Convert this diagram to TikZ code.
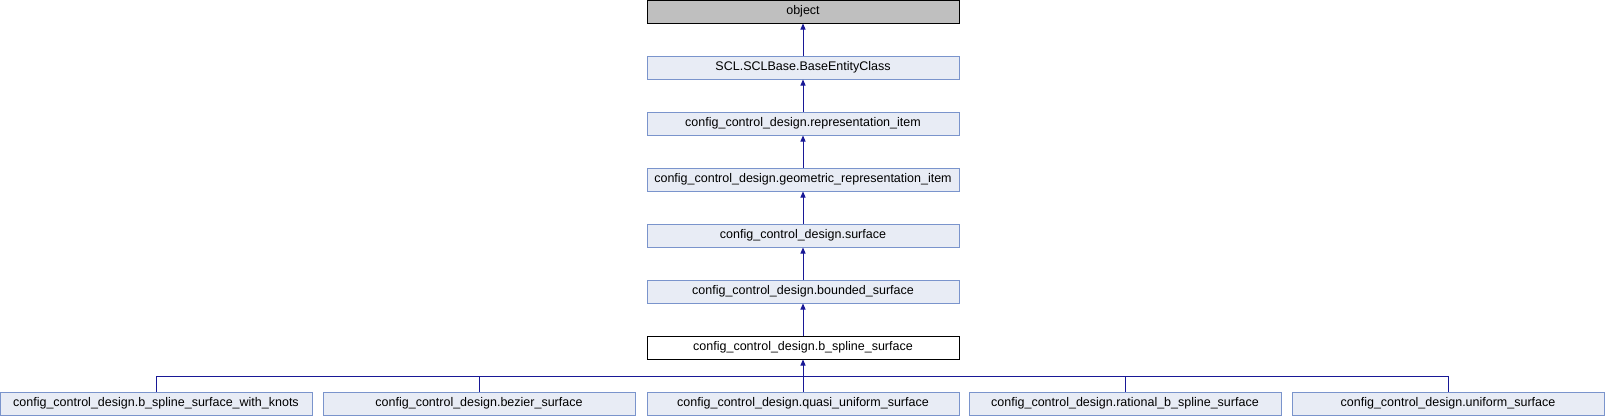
\documentclass[tikz,border=0pt]{standalone}
\usepackage{fontspec}
\setmainfont{Liberation Sans}
\usetikzlibrary{arrows.meta}
\definecolor{edgeblue}{RGB}{24,24,150}
\definecolor{boxfill}{RGB}{232,236,245}
\definecolor{boxline}{RGB}{122,148,204}
\definecolor{objfill}{RGB}{191,191,191}
\tikzset{
  cls/.style={draw=boxline, fill=boxfill, line width=1pt, minimum width=312pt, minimum height=23pt, inner sep=0pt, font=\fontsize{12.5}{14}\selectfont, text=black},
  clsobj/.style={cls, draw=black, fill=objfill},
  clscur/.style={cls, draw=black, fill=white},
  inh/.style={draw=edgeblue, line width=1pt, -{Triangle[length=6pt,width=5pt]}},
  bar/.style={draw=edgeblue, line width=1pt}
}
\begin{document}
\begin{tikzpicture}[x=1pt,y=-1pt]
\useasboundingbox (0,0) rectangle (1605,416);
\node[clsobj] (obj) at (803,11.5) {object};
\node[cls] (scl) at (803,67.5) {SCL.SCLBase.BaseEntityClass};
\node[cls] (rep) at (803,123.5) {config\_control\_design.representation\_item};
\node[cls] (geo) at (803,179.5) {config\_control\_design.geometric\_representation\_item};
\node[cls] (surf) at (803,235.5) {config\_control\_design.surface};
\node[cls] (bnd) at (803,291.5) {config\_control\_design.bounded\_surface};
\node[clscur] (bsp) at (803,347.5) {config\_control\_design.b\_spline\_surface};
\node[cls] (c1) at (156,403.5) {config\_control\_design.b\_spline\_surface\_with\_knots};
\node[cls] (c2) at (479,403.5) {config\_control\_design.bezier\_surface};
\node[cls] (c3) at (803,403.5) {config\_control\_design.quasi\_uniform\_surface};
\node[cls] (c4) at (1125,403.5) {config\_control\_design.rational\_b\_spline\_surface};
\node[cls] (c5) at (1448,403.5) {config\_control\_design.uniform\_surface};
\draw[inh] (scl.north) -- (obj.south);
\draw[inh] (rep.north) -- (scl.south);
\draw[inh] (geo.north) -- (rep.south);
\draw[inh] (surf.north) -- (geo.south);
\draw[inh] (bnd.north) -- (surf.south);
\draw[inh] (bsp.north) -- (bnd.south);
\coordinate (j) at (803,376);
\draw[inh] (c3.north) -- (bsp.south);
\draw[bar] (c1.north) |- (j);
\draw[bar] (c2.north) |- (j);
\draw[bar] (c4.north) |- (j);
\draw[bar] (c5.north) |- (j);
\end{tikzpicture}
\end{document}
